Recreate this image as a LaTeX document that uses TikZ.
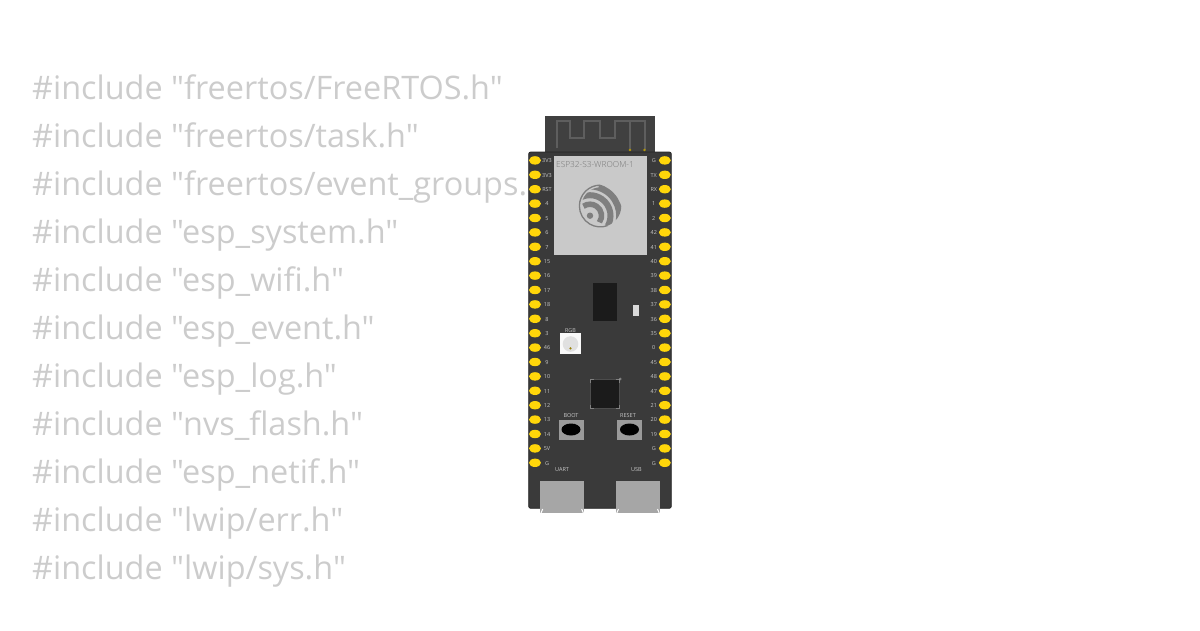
\documentclass[tikz,border=0pt]{standalone}
\usepackage{fontspec}
\defaultfontfeatures{}
\setmainfont{Open Sans}
\newfontfamily\codefont{Open Sans}
\newfontfamily\lightfont{Open Sans Light}
\usetikzlibrary{shapes.geometric}
\definecolor{codegray}{HTML}{CCCCCC}
\definecolor{boardgray}{HTML}{3A3A3A}
\definecolor{antgray}{HTML}{404040}
\definecolor{tracegray}{HTML}{5E5E5E}
\definecolor{modgray}{HTML}{C9C9C9}
\definecolor{logogray}{HTML}{7F7F7F}
\definecolor{labelgray}{HTML}{777777}
\definecolor{pingold}{HTML}{FFD60A}
\definecolor{silklabel}{HTML}{C8C8C8}
\definecolor{chipblack}{HTML}{1B1B1B}
\definecolor{btngray}{HTML}{9A9A9A}
\definecolor{portgray}{HTML}{A6A6A6}
\tikzset{
 codeline/.style={anchor=base west,inner sep=0pt,text=codegray,font=\codefont\fontsize{32.4}{32}\selectfont},
 pinpad/.style={ellipse,fill=pingold,minimum width=12pt,minimum height=8.4pt,inner sep=0pt},
 silk/.style={inner sep=0pt,text=silklabel,font=\fontsize{5.5}{6}\selectfont},
 boxnode/.style={rectangle,inner sep=0pt},
}
\begin{document}
\begin{tikzpicture}[x=1pt,y=-1pt]
\useasboundingbox (0,0) rectangle (1200,630);
\foreach \t [count=\i from 0] in {freertos/FreeRTOS.h",freertos/task.h",freertos/event\_groups.,esp\_system.h",esp\_wifi.h",esp\_event.h",esp\_log.h",nvs\_flash.h",esp\_netif.h",lwip/err.h",lwip/sys.h"}
  \node[codeline] (code\i) at (32,{99.5+48*\i}) {\#include "\t};
% antenna
\node[boxnode,fill=antgray,minimum width=110pt,minimum height=37pt] (antenna) at (600,134.5) {};
\draw[tracegray,line width=2pt] (557.3,148.3) -- (557.3,120.7) -- (570,120.7) -- (570,138.3) -- (584,138.3) -- (584,120.7) -- (600,120.7) -- (600,138.3) -- (615,138.3) -- (615,120.7) -- (645,120.7) -- (645,150);
\draw[tracegray,line width=2pt] (630,120.7) -- (630,150);
\fill[pingold!70!black] (630,150) circle (1.3) (644.5,150) circle (1.3);
% board
\draw[fill=boardgray,draw=black!85,line width=0.8pt,rounded corners=2pt] (528.7,152) rectangle (671.3,508.3);
\node[boxnode,fill=modgray,minimum width=93pt,minimum height=99pt] (module) at (600.5,205.5) {};
\node[inner sep=0pt,text=labelgray,font=\lightfont\fontsize{8.3}{9}\selectfont] (modlabel) at (595,165) {ESP32-S3-WROOM-1};
% logo
\begin{scope}
\clip (600.3,206) circle (21);
\foreach \r/\w in {11.5/5.5,20.5/6,29.5/6.5}
  \draw[logogray,line width=\w pt] (590,215.7) ++(35:\r) arc[start angle=35,end angle=-125,radius=\r];
\end{scope}
\draw[modgray,line width=1.6pt] (600.3,206) ++(-95:19.6) arc[start angle=-95,end angle=-285,radius=19.6];
\draw[logogray,line width=1.3pt] (600.3,206) ++(-90:20.9) arc[start angle=-90,end angle=-290,radius=20.9];
\fill[logogray] (590,215.7) circle (3.2);
% pads
\foreach \t [count=\i from 0] in {3V3,3V3,RST,4,5,6,7,15,16,17,18,8,3,46,9,10,11,12,13,14,5V,G}{
  \node[pinpad] (lp\i) at (535,{160.4+14.4*\i}) {};
  \node[silk] (ll\i) at (547,{160.8+14.4*\i}) {\t};
}
\foreach \t [count=\i from 0] in {G,TX,RX,1,2,42,41,40,39,38,37,36,35,0,45,48,47,21,20,19,G,G}{
  \node[pinpad] (rp\i) at (664.8,{160.4+14.4*\i}) {};
  \node[silk] (rl\i) at (653.8,{160.8+14.4*\i}) {\t};
}
% chips
\node[boxnode,fill=chipblack,minimum width=24pt,minimum height=38.5pt] (flash) at (604.5,302) {};
\node[boxnode,fill=white!85!black,minimum width=6pt,minimum height=11pt] (smd) at (636,310.3) {};
\node[boxnode,fill=white!95!gray,minimum width=20.5pt,minimum height=20.5pt] (rgbled) at (570.5,343.5) {};
\fill[black!12] (570.5,344) circle (7.8);
\fill[pingold!60!black] (570.5,348.3) circle (1.2);
\node[silk,font=\fontsize{5.4}{6}\selectfont] (rgblabel) at (570.5,331) {RGB};
\node[boxnode,fill=chipblack,minimum width=29pt,minimum height=29pt] (mcu) at (604.5,394) {};
\draw[black!70,line width=0.5pt] (590,379.5) rectangle (619,408.5);
\draw[black!50,line width=0.6pt] (590,383) -- (590,379.5) -- (593.5,379.5) (615.5,379.5) -- (619,379.5) -- (619,383) (590,405) -- (590,408.5) -- (593.5,408.5) (615.5,408.5) -- (619,408.5) -- (619,405);
\draw[black!40,line width=0.5pt] (620.2,379) circle (1.1);
% buttons
\node[boxnode,fill=btngray,minimum width=25pt,minimum height=20pt] (bootbtn) at (571,429.5) {};
\node[ellipse,fill=black,minimum width=19pt,minimum height=12pt,inner sep=0pt] (bootcap) at (571,429.5) {};
\node[silk] (bootlabel) at (571,416) {BOOT};
\node[boxnode,fill=btngray,minimum width=25pt,minimum height=20pt] (resetbtn) at (629.5,429.5) {};
\node[ellipse,fill=black,minimum width=19pt,minimum height=12pt,inner sep=0pt] (resetcap) at (629.5,429.5) {};
\node[silk] (resetlabel) at (628,416) {RESET};
\node[silk] (uartlabel) at (562,470) {UART};
\node[silk] (usblabel) at (636.5,470) {USB};
% ports
\node[boxnode,fill=portgray,minimum width=43.5pt,minimum height=32pt] (port1) at (562.2,497) {};
\node[boxnode,fill=portgray,minimum width=43.5pt,minimum height=32pt] (port2) at (638,497) {};
\draw[white,line width=1pt] (542.7,509) -- (540.8,513.5) (581.7,509) -- (583.6,513.5) (618.5,509) -- (616.6,513.5) (657.5,509) -- (659.4,513.5);
\end{tikzpicture}
\end{document}
